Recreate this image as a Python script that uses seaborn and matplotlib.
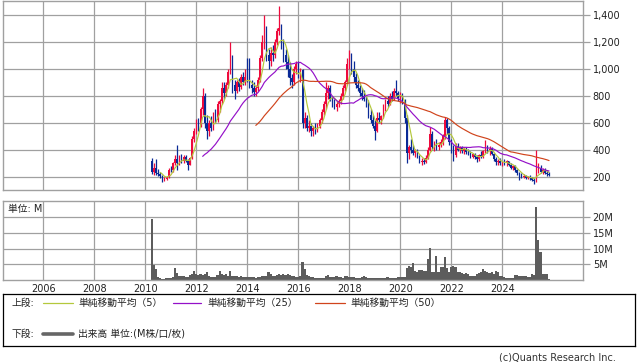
import numpy as np
import pandas as pd
import matplotlib
matplotlib.use("Agg")
import matplotlib.pyplot as plt
from matplotlib.lines import Line2D
import seaborn as sns

# ---------------- data (monthly bars, Apr 2010 .. Nov 2025) ----------------
open_px = [
    320, 240, 270, 230, 225, 205, 180, 185, 200, 255,
    250, 300, 330, 300, 340, 320, 345, 320, 290, 340, 480, 540,
    600, 580, 700, 800, 600, 540, 600, 560, 660, 620, 740, 760,
    860, 820, 880, 980, 1060, 880, 840, 900, 870, 940, 900, 940,
    920, 880, 860, 830, 860, 920, 1080, 1200, 1300, 1100, 1060, 1120,
    1100, 1200, 1280, 1300, 1180, 1100, 1050, 1000, 930, 900, 1000, 1040,
    950, 990, 600, 640, 560, 580, 540, 560, 540, 580, 620, 680,
    740, 820, 860, 780, 740, 720, 740, 760, 800, 860, 900, 1040,
    1080, 1000, 940, 880, 860, 820, 800, 780, 740, 660, 620, 580,
    540, 640, 620, 650, 720, 760, 740, 800, 780, 840, 820, 780,
    800, 760, 640, 380, 420, 400, 380, 400, 350, 310, 320, 310,
    340, 400, 520, 420, 450, 420, 440, 460, 500, 620, 560, 460,
    420, 360, 430, 400, 420, 395, 410, 385, 375, 350, 370, 345,
    330, 360, 350, 390, 420, 400, 410, 370, 330, 310, 320, 300,
    310, 300, 315, 290, 270, 280, 250, 230, 210, 200, 205, 195,
    200, 190, 180, 170, 260, 270, 240, 255, 230, 225,
]
high_px = [
    340, 300, 330, 260, 240, 215, 200, 210, 270, 280,
    310, 360, 440, 360, 370, 360, 360, 330, 350, 500, 560, 630,
    640, 720, 860, 820, 660, 620, 650, 680, 700, 760, 780, 900,
    900, 900, 1000, 1200, 1100, 920, 920, 930, 960, 980, 1000, 1080,
    1080, 920, 900, 880, 940, 1100, 1250, 1400, 1320, 1150, 1160, 1180,
    1220, 1300, 1470, 1330, 1220, 1150, 1100, 1050, 960, 1020, 1060, 1060,
    1010, 1000, 680, 660, 620, 600, 580, 600, 600, 640, 700, 760,
    900, 880, 880, 800, 780, 760, 780, 820, 880, 920, 1080, 1140,
    1120, 1060, 970, 920, 880, 860, 845, 800, 770, 700, 660, 620,
    680, 680, 660, 740, 780, 800, 820, 840, 860, 920, 840, 830,
    820, 780, 660, 440, 480, 440, 410, 410, 360, 340, 340, 360,
    420, 570, 540, 470, 480, 460, 480, 520, 645, 640, 580, 480,
    440, 450, 450, 430, 430, 420, 420, 410, 390, 380, 380, 360,
    370, 390, 400, 475, 440, 430, 420, 380, 350, 330, 340, 320,
    330, 325, 320, 300, 290, 290, 260, 240, 230, 220, 215, 210,
    215, 200, 195, 400, 300, 290, 270, 270, 250, 235,
]
low_px = [
    220, 215, 215, 210, 195, 160, 170, 175, 190, 235,
    240, 290, 255, 290, 300, 300, 310, 250, 290, 330, 460, 520,
    540, 570, 660, 560, 480, 500, 540, 550, 600, 610, 680, 740,
    780, 800, 860, 960, 820, 780, 820, 840, 850, 880, 880, 900,
    860, 820, 800, 800, 840, 900, 1060, 1150, 1060, 1000, 1020, 1060,
    1080, 1180, 1250, 1150, 1050, 1000, 940, 880, 860, 880, 960, 930,
    900, 560, 560, 540, 530, 500, 500, 520, 530, 560, 600, 660,
    700, 780, 760, 720, 700, 690, 720, 740, 780, 840, 880, 1000,
    960, 900, 860, 840, 800, 770, 760, 720, 640, 600, 560, 474,
    530, 600, 590, 640, 690, 720, 730, 760, 770, 800, 760, 750,
    740, 600, 300, 330, 380, 360, 350, 340, 300, 290, 295, 300,
    330, 390, 400, 390, 400, 400, 420, 440, 480, 520, 440, 380,
    320, 350, 390, 380, 380, 370, 370, 360, 340, 340, 330, 310,
    320, 340, 340, 380, 380, 360, 360, 320, 290, 290, 290, 280,
    290, 280, 280, 260, 255, 240, 215, 180, 195, 190, 185, 185,
    180, 170, 145, 165, 230, 230, 220, 220, 210, 205,
]
close_px = [
    240, 270, 230, 225, 205, 180, 185, 200, 255, 250,
    300, 330, 300, 340, 320, 345, 320, 290, 340, 480, 540, 600,
    580, 700, 800, 600, 540, 600, 560, 660, 620, 740, 760, 860,
    820, 880, 980, 1060, 880, 840, 900, 870, 940, 900, 940, 920,
    880, 860, 830, 860, 920, 1080, 1200, 1300, 1100, 1060, 1120, 1100,
    1200, 1280, 1300, 1180, 1100, 1050, 1000, 930, 900, 1000, 1040, 950,
    990, 600, 640, 560, 580, 540, 560, 540, 580, 620, 680, 740,
    820, 860, 780, 740, 720, 740, 760, 800, 860, 900, 1040, 1080,
    1000, 940, 880, 860, 820, 800, 780, 740, 660, 620, 580, 540,
    640, 620, 650, 720, 760, 740, 800, 780, 840, 820, 780, 800,
    760, 640, 380, 420, 400, 380, 400, 350, 310, 320, 310, 340,
    400, 520, 420, 450, 420, 440, 460, 500, 620, 560, 460, 420,
    360, 430, 400, 420, 395, 410, 385, 375, 350, 370, 345, 330,
    360, 350, 390, 420, 400, 410, 370, 330, 310, 320, 300, 310,
    300, 315, 290, 270, 280, 250, 230, 210, 200, 205, 195, 200,
    190, 180, 170, 260, 270, 240, 255, 230, 225, 215,
]
volume_m = [
    19.4, 4.8, 3.5, 1.0, 0.5, 0.4, 0.4, 0.5, 0.5, 0.6,
    1.0, 3.8, 2.3, 1.2, 1.3, 1.2, 1.0, 1.1, 1.5, 2.0,
    2.9, 1.8, 1.6, 1.8, 1.7, 2.0, 2.6, 1.2, 1.0, 0.9,
    1.0, 1.5, 2.8, 1.8, 1.6, 2.0, 1.4, 2.8, 1.4, 1.2,
    1.3, 1.0, 1.2, 0.9, 0.8, 0.9, 1.0, 0.8, 0.9, 0.7,
    0.8, 1.1, 1.3, 1.2, 1.4, 2.7, 2.0, 1.4, 1.2, 1.6,
    1.8, 1.6, 1.8, 1.7, 1.9, 1.5, 1.4, 1.2, 1.0, 1.1,
    1.2, 5.7, 3.6, 1.6, 1.2, 0.9, 0.9, 0.5, 0.5, 0.6,
    0.5, 0.7, 1.4, 1.6, 1.0, 0.9, 1.0, 1.2, 1.0, 0.8,
    0.6, 1.4, 1.2, 1.0, 0.9, 0.8, 0.6, 0.5, 0.6, 0.8,
    1.4, 0.8, 0.6, 0.6, 0.7, 0.6, 0.6, 0.7, 0.6, 0.5,
    0.6, 0.9, 0.7, 0.6, 0.7, 0.6, 0.9, 0.8, 0.9, 1.0,
    3.8, 4.5, 4.0, 5.5, 3.0, 2.4, 3.2, 3.2, 2.8, 3.0,
    6.7, 10.2, 2.6, 2.6, 7.6, 2.6, 4.0, 4.0, 7.3, 3.7,
    2.5, 4.0, 4.4, 4.2, 2.5, 2.5, 2.2, 2.0, 2.3, 2.0,
    1.3, 1.2, 1.3, 1.9, 2.2, 2.5, 3.6, 2.9, 2.6, 2.1,
    2.6, 2.0, 3.0, 2.4, 1.4, 1.2, 0.8, 0.7, 0.6, 0.5,
    0.6, 1.6, 1.5, 1.2, 1.2, 1.2, 1.4, 1.0, 1.0, 2.0,
    1.5, 23.3, 12.7, 8.9, 2.0, 2.0, 1.8, 0.4,
]
price_ticks = [200, 400, 600, 800, 1000, 1200, 1400]
volume_ticks = [5, 10, 15, 20]
year_ticks = [2006, 2008, 2010, 2012, 2014, 2016, 2018, 2020, 2022, 2024]
ma_windows = [5, 25, 50]
ma_labels = ["単純移動平均（5）", "単純移動平均（25）", "単純移動平均（50）"]
ma_colors = ["#b4c83c", "#9410c8", "#d0441c"]

# ---------------- frame ----------------
months = pd.date_range("2010-04-01", periods=len(close_px), freq="MS")
df = pd.DataFrame({
    "x": months.year + (months.month - 1) / 12.0,
    "open": open_px, "high": high_px, "low": low_px, "close": close_px,
    "volume": volume_m,
})
for n in ma_windows:
    df[f"ma{n}"] = df["close"].rolling(n).mean()

sns.set_style("white")
plt.rcParams["font.family"] = ["DejaVu Sans", "Noto Sans CJK JP"]

W, H = 638, 362
fig = plt.figure(figsize=(W / 100, H / 100), dpi=100)


def rect(l, t, r, b):
    return [l / W, 1 - b / H, (r - l) / W, (b - t) / H]


GRID = "#a0a0a0"
UP = "#ee0a3c"
DOWN = "#0a2a96"
XLIM = (2004.42, 2027.165)

ax = fig.add_axes(rect(3, 1, 583, 190))
axv = fig.add_axes(rect(3, 201, 583, 280))

# ---------------- candles ----------------
up = df["close"] >= df["open"]
colors = np.where(up, UP, DOWN)
ax.vlines(df["x"], df["low"], df["high"], colors=colors, lw=0.9, zorder=3)
body_bottom = np.minimum(df["open"], df["close"])
body_h = np.maximum(np.abs(df["close"] - df["open"]), 4)
ax.bar(df["x"], body_h, bottom=body_bottom, width=0.7 / 12, color=colors,
       linewidth=0, zorder=3, antialiased=False)

for n, c in zip(ma_windows, ma_colors):
    sns.lineplot(data=df, x="x", y=f"ma{n}", color=c, lw=0.85, ax=ax,
                 zorder=4, legend=False)

ax.set_xlim(*XLIM)
ax.set_ylim(103.7, 1503.7)
ax.set_xticks(year_ticks)
ax.set_xticklabels([])
ax.set_yticks(price_ticks)
ax.set_yticklabels([f"{v:,}" for v in price_ticks])
ax.yaxis.tick_right()
ax.grid(True, color=GRID, lw=0.9)
ax.set_axisbelow(True)
ax.tick_params(axis="y", length=5, width=0.9, color=GRID, pad=2,
               labelsize=7, labelcolor="#222222")
ax.tick_params(axis="x", length=0)
ax.set_xlabel("")
ax.set_ylabel("")
for s in ax.spines.values():
    s.set_color(GRID)
    s.set_linewidth(1.0)

# ---------------- volume ----------------
sns.barplot(data=df, x="x", y="volume", native_scale=True, width=1.0,
            color="#5c5c5c", errorbar=None, linewidth=0, saturation=1,
            ax=axv)
axv.set_xlim(*XLIM)
axv.set_ylim(0, 25.16)
axv.set_xticks(year_ticks)
axv.set_xticklabels([str(y) for y in year_ticks])
axv.set_yticks(volume_ticks)
axv.set_yticklabels([f"{v}M" for v in volume_ticks])
axv.yaxis.tick_right()
axv.grid(True, color=GRID, lw=0.9)
axv.set_axisbelow(True)
axv.tick_params(axis="y", length=5, width=0.9, color=GRID, pad=2,
                labelsize=7, labelcolor="#222222")
axv.tick_params(axis="x", length=0, pad=3, labelsize=7, labelcolor="#222222")
axv.set_xlabel("")
axv.set_ylabel("")
for s in axv.spines.values():
    s.set_color(GRID)
    s.set_linewidth(1.0)
fig.text(8 / W, 1 - 209 / H, "単位: M", fontsize=7, va="center", ha="left",
         color="#222222")

# ---------------- legend box ----------------
lg = fig.add_axes(rect(3, 294, 635, 346))
lg.set_xlim(3, 635)
lg.set_ylim(346, 294)
lg.set_xticks([])
lg.set_yticks([])
for s in lg.spines.values():
    s.set_color("black")
    s.set_linewidth(0.9)
txt_kw = dict(fontsize=7, va="center", ha="left", color="#222222")
lg.text(12, 302.5, "上段:", **txt_kw)
lg.text(12, 334, "下段:", **txt_kw)
for (x0, x1, tx), lab, c in zip([(43, 73, 78), (173, 201, 207), (315, 345, 350)],
                                 ma_labels, ma_colors):
    lg.add_line(Line2D([x0, x1], [302.5, 302.5], color=c, lw=0.9))
    lg.text(tx, 302.5, lab, **txt_kw)
lg.add_line(Line2D([43, 73], [334, 334], color="#666666", lw=2.6))
lg.text(78, 334, "出来高 単位:(M株/口/枚)", **txt_kw)

fig.text(616 / W, 1 - 357.5 / H, "(c)Quants Research Inc.", fontsize=7,
         ha="right", va="center", color="#333333")

fig.savefig("out.png", dpi=100)
